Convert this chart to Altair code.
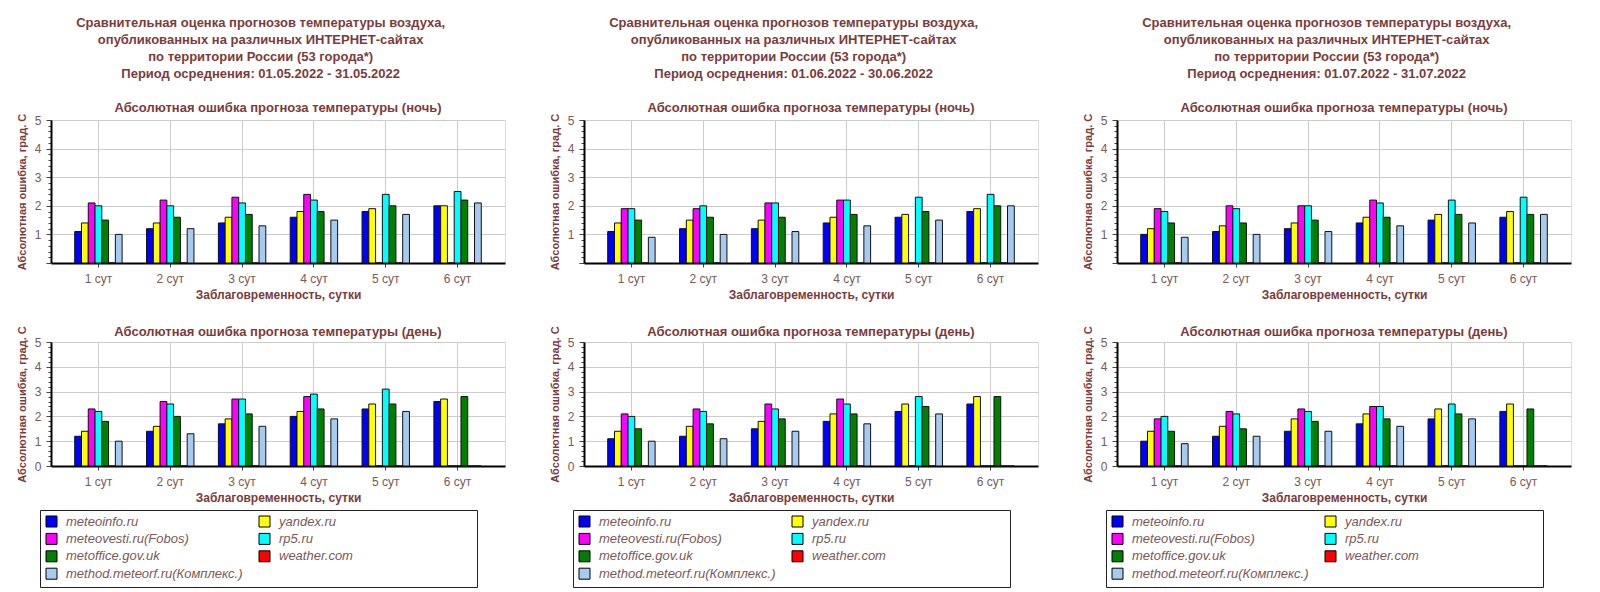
import altair as alt
import pandas as pd

DAYS = ["1 сут", "2 сут", "3 сут", "4 сут", "5 сут", "6 сут"]
SITES = ["meteoinfo.ru", "yandex.ru", "meteovesti.ru(Fobos)", "rp5.ru",
         "metoffice.gov.uk", "weather.com", "method.meteorf.ru(Комплекс.)"]
COLORS = ["#0000ff", "#ffff00", "#ff00ff", "#00ffff", "#007f00", "#ff0000", "#a6caf0"]
# legend is filled column by column: left column first
LEGEND_ORDER = [0, 2, 4, 6, 1, 3, 5]

PERIODS = ["01.05.2022 - 31.05.2022", "01.06.2022 - 30.06.2022", "01.07.2022 - 31.07.2022"]

# order of values in each list follows SITES; one list per lead day
MAY_NIGHT = [
    [1.1, 1.4, 2.1, 2.0, 1.5, 0, 1.0],
    [1.2, 1.4, 2.2, 2.0, 1.6, 0, 1.2],
    [1.4, 1.6, 2.3, 2.1, 1.7, 0, 1.3],
    [1.6, 1.8, 2.4, 2.2, 1.8, 0, 1.5],
    [1.8, 1.9, 0, 2.4, 2.0, 0, 1.7],
    [2.0, 2.0, 0, 2.5, 2.2, 0, 2.1],
]
MAY_DAY = [
    [1.2, 1.4, 2.3, 2.2, 1.8, 0, 1.0],
    [1.4, 1.6, 2.6, 2.5, 2.0, 0, 1.3],
    [1.7, 1.9, 2.7, 2.7, 2.1, 0, 1.6],
    [2.0, 2.2, 2.8, 2.9, 2.3, 0, 1.9],
    [2.3, 2.5, 0, 3.1, 2.5, 0, 2.2],
    [2.6, 2.7, 0, 0, 2.8, 0, 0],
]
JUN_NIGHT = [
    [1.1, 1.4, 1.9, 1.9, 1.5, 0, 0.9],
    [1.2, 1.5, 1.9, 2.0, 1.6, 0, 1.0],
    [1.2, 1.5, 2.1, 2.1, 1.6, 0, 1.1],
    [1.4, 1.6, 2.2, 2.2, 1.7, 0, 1.3],
    [1.6, 1.7, 0, 2.3, 1.8, 0, 1.5],
    [1.8, 1.9, 0, 2.4, 2.0, 0, 2.0],
]
JUN_DAY = [
    [1.1, 1.4, 2.1, 2.0, 1.5, 0, 1.0],
    [1.2, 1.6, 2.3, 2.2, 1.7, 0, 1.1],
    [1.5, 1.8, 2.5, 2.3, 1.9, 0, 1.4],
    [1.8, 2.1, 2.7, 2.5, 2.1, 0, 1.7],
    [2.2, 2.5, 0, 2.8, 2.4, 0, 2.1],
    [2.5, 2.8, 0, 0, 2.8, 0, 0],
]
JUL_NIGHT = [
    [1.0, 1.2, 1.9, 1.8, 1.4, 0, 0.9],
    [1.1, 1.3, 2.0, 1.9, 1.4, 0, 1.0],
    [1.2, 1.4, 2.0, 2.0, 1.5, 0, 1.1],
    [1.4, 1.6, 2.2, 2.1, 1.6, 0, 1.3],
    [1.5, 1.7, 0, 2.2, 1.7, 0, 1.4],
    [1.6, 1.8, 0, 2.3, 1.7, 0, 1.7],
]
JUL_DAY = [
    [1.0, 1.4, 1.9, 2.0, 1.4, 0, 0.9],
    [1.2, 1.6, 2.2, 2.1, 1.5, 0, 1.2],
    [1.4, 1.9, 2.3, 2.2, 1.8, 0, 1.4],
    [1.7, 2.1, 2.4, 2.4, 1.9, 0, 1.6],
    [1.9, 2.3, 0, 2.5, 2.1, 0, 1.9],
    [2.2, 2.5, 0, 0, 2.3, 0, 0],
]

TITLE_LINES = ["Сравнительная оценка прогнозов температуры воздуха,",
               "опубликованных на различных ИНТЕРНЕТ-сайтах",
               "по территории России (53 города*)"]
SUB_NIGHT = "Абсолютная ошибка прогноза температуры (ночь)"
SUB_DAY = "Абсолютная ошибка прогноза температуры (день)"
X_TITLE = "Заблаговременность, сутки"
Y_TITLE = "Абсолютная ошибка, град. С"

FONT = "Liberation Sans"
TITLE_COLOR = "#7b3b3b"
LABEL_COLOR = "#7a5858"
W = 454
Y_TICKS = [round(i * 0.2, 1) for i in range(26)]


def frame(values):
    rows = []
    for d, vals in zip(DAYS, values):
        for s, v in zip(SITES, vals):
            rows.append({"day": d, "site": s, "value": v})
    return pd.DataFrame(rows)


def panel(values, subtitle, height, show_zero, legend, title_offset):
    label_expr = ("datum.value % 1 === 0 ? '' + datum.value : ''" if show_zero
                  else "datum.value % 1 === 0 && datum.value > 0 ? '' + datum.value : ''")
    if legend:
        leg = alt.Legend(orient="none", legendX=-11, legendY=168, columns=2,
                         columnPadding=14, rowPadding=2.4, symbolType="square",
                         symbolSize=121, symbolStrokeColor="black", symbolStrokeWidth=1,
                         labelFont=FONT, labelFontStyle="italic", labelFontSize=13,
                         labelColor=LABEL_COLOR, labelOffset=8, strokeColor="#222",
                         fillColor="white", padding=5, title=" ", titleOrient="right",
                         titlePadding=119, labelLimit=300)
    else:
        leg = None
    return alt.Chart(frame(values)).mark_bar(stroke="#111", strokeWidth=1).encode(
        x=alt.X("day:N", sort=DAYS, title=X_TITLE,
                scale=alt.Scale(paddingInner=0.34, paddingOuter=0.33),
                axis=alt.Axis(labelAngle=0, labelFont=FONT, labelFontSize=12,
                              labelColor=LABEL_COLOR, titleFont=FONT, titleFontSize=12,
                              titleFontWeight="bold", titleColor=TITLE_COLOR,
                              domainColor="black", domainWidth=2, tickColor="#444",
                              tickSize=4, grid=True, gridColor="#cccccc",
                              bandPosition=0.5, titlePadding=5, labelPadding=6)),
        xOffset=alt.XOffset("site:N", sort=SITES,
                            scale=alt.Scale(paddingInner=0, paddingOuter=0)),
        y=alt.Y("value:Q", title=Y_TITLE, scale=alt.Scale(domain=[0, 5], nice=False),
                axis=alt.Axis(values=Y_TICKS, labelExpr=label_expr, labelFont=FONT,
                              labelFontSize=12, labelColor=LABEL_COLOR,
                              titleFont=FONT, titleFontSize=11, titleFontWeight="bold",
                              titleColor=TITLE_COLOR, domainColor="black", domainWidth=2,
                              tickColor="#444",
                              tickSize={"condition": {"test": "datum.value % 1 === 0", "value": 5}, "value": 3},
                              gridColor="#cccccc",
                              gridOpacity={"condition": {"test": "datum.value % 1 === 0 && datum.value > 0", "value": 1}, "value": 0},
                              titlePadding=7, labelPadding=5)),
        color=alt.Color("site:N",
                        scale=alt.Scale(domain=[SITES[i] for i in LEGEND_ORDER],
                                        range=[COLORS[i] for i in LEGEND_ORDER]),
                        legend=leg),
    ).properties(
        width=W, height=height,
        title=alt.TitleParams(subtitle, font=FONT, fontSize=13, fontWeight="bold",
                              color=TITLE_COLOR, anchor="middle", offset=title_offset),
    )


columns = []
for period, night, day in zip(PERIODS, [MAY_NIGHT, JUN_NIGHT, JUL_NIGHT], [MAY_DAY, JUN_DAY, JUL_DAY]):
    col = alt.vconcat(
        panel(night, SUB_NIGHT, 143, False, False, -2),
        panel(day, SUB_DAY, 124, True, True, -13),
        spacing=24,
        title=alt.TitleParams(TITLE_LINES + ["Период осреднения: " + period], font=FONT,
                              fontSize=13, fontWeight="bold", color=TITLE_COLOR,
                              anchor="middle", lineHeight=17, offset=21),
    ).resolve_scale(color="independent").resolve_legend(color="independent")
    columns.append(col)

chart = alt.hconcat(*columns, spacing=42).resolve_scale(color="independent").resolve_legend(
    color="independent"
).configure_view(stroke="#555", strokeWidth=1).configure(
    padding={"left": 7, "top": 8, "right": 5, "bottom": 0}
)

chart.save("out.html", embed_options={"renderer": "svg", "actions": False})
